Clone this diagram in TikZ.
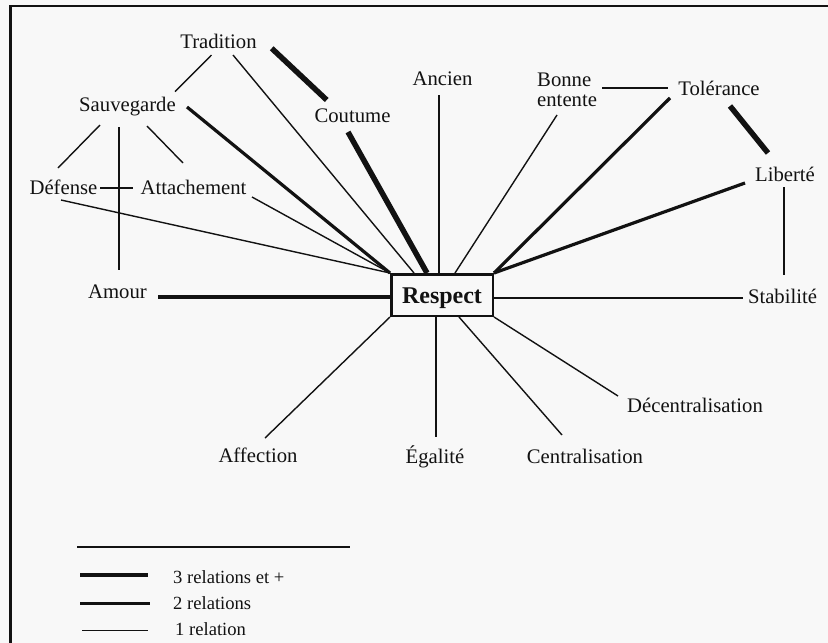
\documentclass[tikz,border=0pt]{standalone}
\usepackage{fontspec}
\setmainfont{Liberation Serif}
\definecolor{paper}{RGB}{248,248,248}
\definecolor{ink}{RGB}{18,18,18}
\begin{document}
\begin{tikzpicture}[x=1pt,y=-1pt,
  lbl/.style={inner sep=0pt, anchor=base, text=ink, font=\fontsize{20.7}{20}\selectfont},
  leg/.style={inner sep=0pt, anchor=base west, text=ink, font=\fontsize{18.6}{18}\selectfont},
  rel1/.style={draw=ink, line width=1.4pt},
  rel2/.style={draw=ink, line width=3.2pt},
  rel3/.style={draw=ink, line width=5.5pt},
  hub/.style={draw=ink, line width=2.5pt, minimum width=101.5pt, minimum height=41.5pt,
    inner sep=0pt, text=ink, font=\fontsize{24}{24}\selectfont\bfseries,
    text height=16pt, text depth=0pt}
]
% page and frame
\fill[paper] (0,0) rectangle (828,643);
\useasboundingbox (0,0) rectangle (828,643);
\draw[ink, line width=2.5pt] (10.7,643) -- (10.7,6.2) -- (828,6.2);

% central value
\node[hub] (resp) at (442,295) {Respect};

% associated values
\node[lbl] (trad)   at (218.5,48)  {Tradition};
\node[lbl] (sauv)   at (127.5,111) {Sauvegarde};
\node[lbl] (cout)   at (352.5,122.5) {Coutume};
\node[lbl] (def)    at (63.5,194)  {Défense};
\node[lbl] (att)    at (193.5,194) {Attachement};
\node[lbl] (amour)  at (117.5,298) {Amour};
\node[lbl] (ancien) at (442.5,85.5) {Ancien};
% two-line label: its base anchor sits on the last line
\node[lbl, anchor=base west, align=left] (bonne) at (537,106) {Bonne\\entente};
\node[lbl] (tol)    at (719,95.7)  {Tolérance};
\node[lbl] (lib)    at (785,181.7) {Liberté};
\node[lbl] (stab)   at (782.5,303.3) {Stabilité};
\node[lbl] (aff)    at (258,462.3) {Affection};
\node[lbl] (egal)   at (435,463.3) {Égalité};
\node[lbl] (cent)   at (585,463.3) {Centralisation};
\node[lbl] (dec)    at (695,412.7) {Décentralisation};

% links between values
\draw[rel3] ([shift={(53.2,0.3)}]trad.base) -- ([shift={(-25.8,-22.5)}]cout.base);
\draw[rel1] ([shift={(-7,7)}]trad.base) -- ([shift={(47.5,-19.3)}]sauv.base);
\draw[rel1] ([shift={(-27.5,14)}]sauv.base) -- ([shift={(-5.5,-26)}]def.base);
\draw[rel1] ([shift={(-8.5,16)}]sauv.base) -- ([shift={(1.5,-28)}]amour.base);
\draw[rel1] ([shift={(19.5,15)}]sauv.base) -- ([shift={(-10.5,-31)}]att.base);
\draw[rel1] ([shift={(36.5,-6)}]def.base) -- ([shift={(-60.5,-6)}]att.base);
\draw[rel1] ([shift={(65,-18)}]bonne.base west) -- ([shift={(-51,-7.7)}]tol.base);
\draw[rel3] ([shift={(11,10.3)}]tol.base) -- ([shift={(-17,-28.7)}]lib.base);
\draw[rel1] ([shift={(-1,5.3)}]lib.base) -- ([shift={(1.5,-28.3)}]stab.base);

% links to Respect
\draw[rel1] ([shift={(14.5,7)}]trad.base) -- ([shift={(24,0)}]resp.north west);
\draw[rel2] ([shift={(59.5,-4)}]sauv.base) -- (resp.north west);
\draw[rel1] ([shift={(-2.5,6)}]def.base) -- (resp.north west);
\draw[rel1] ([shift={(58.5,3)}]att.base) -- (resp.north west);
\draw[rel2] ([shift={(40.5,-1)}]amour.base) -- ([shift={(0,2)}]resp.west);
\draw[rel3] ([shift={(-4.5,9.5)}]cout.base) -- ([shift={(37,0)}]resp.north west);
\draw[rel1] ([shift={(-3.5,9.5)}]ancien.base) -- ([shift={(-3,0)}]resp.north);
\draw[rel1] ([shift={(20,9)}]bonne.base west) -- ([shift={(13,0)}]resp.north);
\draw[rel2] ([shift={(-49,2.3)}]tol.base) -- (resp.north east);
\draw[rel2] ([shift={(-40,1.3)}]lib.base) -- (resp.north east);
\draw[rel1] ([shift={(0,3)}]resp.east) -- ([shift={(-39.5,-5.3)}]stab.base);
\draw[rel1] (resp.south west) -- ([shift={(7,-24.3)}]aff.base);
\draw[rel1] ([shift={(-6,0)}]resp.south) -- ([shift={(1,-26.3)}]egal.base);
\draw[rel1] ([shift={(17,0)}]resp.south) -- ([shift={(-23,-28.3)}]cent.base);
\draw[rel1] (resp.south east) -- ([shift={(-77,-16.7)}]dec.base);

% legend
\coordinate (sepL) at (77,547);  \coordinate (sepR) at (350,547);
\draw[rel1, line width=1.1pt] (sepL) -- (sepR);
\coordinate (l3a) at (80,575);   \coordinate (l3b) at (148,575);
\coordinate (l2a) at (80,603.5); \coordinate (l2b) at (150,603.5);
\coordinate (l1a) at (82,630);   \coordinate (l1b) at (148,630);
\draw[rel3, line width=4.5pt] (l3a) -- (l3b);
\draw[rel2] (l2a) -- (l2b);
\draw[rel1, line width=1pt] (l1a) -- (l1b);
\node[leg] (t3) at (173,583) {3 relations et +};
\node[leg] (t2) at (173,609) {2 relations};
\node[leg] (t1) at (175,635) {1 relation};
\end{tikzpicture}
\end{document}
